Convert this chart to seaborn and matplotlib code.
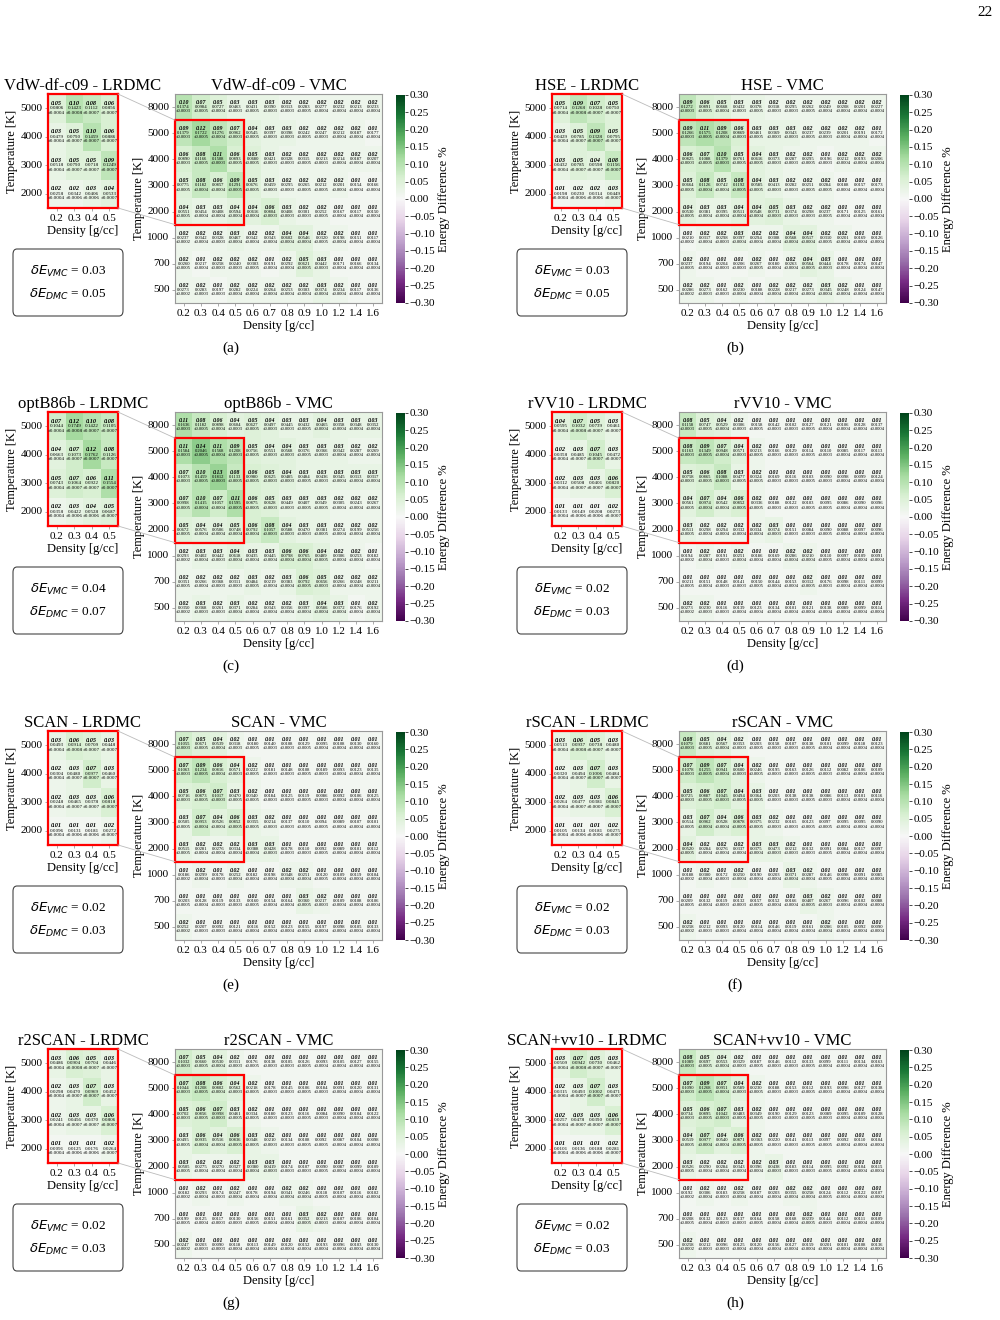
import numpy as np
import matplotlib.pyplot as plt
import matplotlib.patches as patches
from matplotlib.patches import ConnectionPatch
import seaborn as sns

plt.rcParams['font.family'] = ['Liberation Serif', 'DejaVu Serif']
plt.rcParams['mathtext.fontset'] = 'dejavusans'

# axes categories
density_vmc = ["0.2", "0.3", "0.4", "0.5", "0.6", "0.7", "0.8", "0.9", "1.0", "1.2", "1.4", "1.6"]
density_lrdmc = ["0.2", "0.3", "0.4", "0.5"]
temps_vmc = ["8000", "5000", "4000", "3000", "2000", "1000", "700", "500"]
temps_lrdmc = ["5000", "4000", "3000", "2000"]

# statistical errors (same QMC references for every functional)
lrdmc_err = [[0.0004, 0.0008, 0.0007, 0.0007],
             [0.0004, 0.0007, 0.0007, 0.0007],
             [0.0004, 0.0007, 0.0007, 0.0007],
             [0.0004, 0.0006, 0.0006, 0.0007]]
vmc_err = [[0.0003, 0.0005, 0.0004, 0.0003, 0.0005, 0.0003, 0.0003, 0.0005, 0.0004, 0.0004, 0.0004, 0.0004],
           [0.0003, 0.0005, 0.0004, 0.0003, 0.0005, 0.0003, 0.0003, 0.0005, 0.0003, 0.0004, 0.0004, 0.0004],
           [0.0003, 0.0005, 0.0003, 0.0005, 0.0005, 0.0003, 0.0003, 0.0005, 0.0003, 0.0004, 0.0004, 0.0004],
           [0.0005, 0.0004, 0.0004, 0.0005, 0.0005, 0.0003, 0.0003, 0.0005, 0.0005, 0.0004, 0.0004, 0.0004],
           [0.0005, 0.0004, 0.0004, 0.0004, 0.0004, 0.0003, 0.0003, 0.0003, 0.0005, 0.0004, 0.0004, 0.0004],
           [0.0002, 0.0004, 0.0003, 0.0004, 0.0004, 0.0004, 0.0004, 0.0004, 0.0005, 0.0004, 0.0004, 0.0004],
           [0.0005, 0.0004, 0.0003, 0.0003, 0.0005, 0.0004, 0.0004, 0.0005, 0.0003, 0.0004, 0.0004, 0.0004],
           [0.0002, 0.0003, 0.0003, 0.0004, 0.0004, 0.0004, 0.0004, 0.0004, 0.0004, 0.0004, 0.0004, 0.0004]]

# ---- VdW-df-c09 ----
vdw_lr_pct = [[0.05, 0.10, 0.08, 0.06], [0.03, 0.05, 0.10, 0.06], [0.03, 0.05, 0.05, 0.09], [0.02, 0.02, 0.03, 0.04]]
vdw_lr_val = [[0.0806, 0.1423, 0.1112, 0.0856], [0.0479, 0.0790, 0.1459, 0.0886],
              [0.0518, 0.0790, 0.0718, 0.1249], [0.0258, 0.0342, 0.0406, 0.0533]]
vdw_vmc_pct = [[0.10, 0.07, 0.05, 0.03, 0.03, 0.03, 0.02, 0.02, 0.02, 0.02, 0.02, 0.02],
               [0.09, 0.12, 0.09, 0.07, 0.04, 0.03, 0.03, 0.02, 0.02, 0.02, 0.02, 0.01],
               [0.06, 0.08, 0.11, 0.06, 0.05, 0.03, 0.02, 0.02, 0.02, 0.02, 0.02, 0.02],
               [0.05, 0.08, 0.06, 0.09, 0.05, 0.03, 0.02, 0.02, 0.02, 0.02, 0.01, 0.01],
               [0.04, 0.03, 0.03, 0.04, 0.04, 0.06, 0.03, 0.02, 0.02, 0.01, 0.01, 0.01],
               [0.02, 0.02, 0.02, 0.03, 0.02, 0.02, 0.04, 0.04, 0.02, 0.02, 0.01, 0.01],
               [0.02, 0.01, 0.02, 0.02, 0.02, 0.01, 0.02, 0.05, 0.03, 0.01, 0.01, 0.01],
               [0.02, 0.02, 0.01, 0.02, 0.02, 0.02, 0.02, 0.02, 0.03, 0.02, 0.01, 0.01]]
vdw_vmc_val = [[0.1374, 0.0984, 0.0727, 0.0463, 0.0431, 0.0390, 0.0313, 0.0283, 0.0277, 0.0232, 0.0213, 0.0233],
               [0.1379, 0.1722, 0.1276, 0.0962, 0.0545, 0.0397, 0.0398, 0.0242, 0.0247, 0.0212, 0.0187, 0.0177],
               [0.0890, 0.1166, 0.1508, 0.0893, 0.0680, 0.0421, 0.0328, 0.0315, 0.0213, 0.0214, 0.0187, 0.0207],
               [0.0775, 0.1182, 0.0857, 0.1291, 0.0676, 0.0459, 0.0295, 0.0265, 0.0212, 0.0201, 0.0154, 0.0166],
               [0.0551, 0.0454, 0.0408, 0.0594, 0.0616, 0.0804, 0.0408, 0.0301, 0.0252, 0.0167, 0.0117, 0.0150],
               [0.0237, 0.0342, 0.0328, 0.0467, 0.0342, 0.0343, 0.0602, 0.0546, 0.0320, 0.0198, 0.0151, 0.0117],
               [0.0260, 0.0217, 0.0258, 0.0240, 0.0303, 0.0191, 0.0292, 0.0621, 0.0442, 0.0171, 0.0166, 0.0134],
               [0.0273, 0.0283, 0.0197, 0.0282, 0.0224, 0.0264, 0.0253, 0.0303, 0.0374, 0.0234, 0.0117, 0.0136]]

# ---- HSE ----
hse_lr_pct = [[0.05, 0.09, 0.07, 0.05], [0.03, 0.05, 0.09, 0.05], [0.03, 0.05, 0.04, 0.08], [0.01, 0.02, 0.02, 0.03]]
hse_lr_val = [[0.0714, 0.1268, 0.1028, 0.0750], [0.0429, 0.0785, 0.1328, 0.0795],
              [0.0432, 0.0785, 0.0598, 0.1156], [0.0198, 0.0230, 0.0314, 0.0449]]
hse_vmc_pct = [[0.09, 0.06, 0.05, 0.03, 0.03, 0.02, 0.02, 0.02, 0.02, 0.02, 0.02, 0.02],
               [0.09, 0.11, 0.09, 0.06, 0.03, 0.03, 0.03, 0.02, 0.02, 0.02, 0.02, 0.01],
               [0.06, 0.07, 0.10, 0.05, 0.04, 0.03, 0.02, 0.02, 0.01, 0.02, 0.02, 0.02],
               [0.05, 0.08, 0.05, 0.08, 0.04, 0.03, 0.02, 0.02, 0.02, 0.01, 0.01, 0.01],
               [0.04, 0.03, 0.03, 0.04, 0.04, 0.05, 0.03, 0.02, 0.02, 0.01, 0.01, 0.01],
               [0.01, 0.02, 0.02, 0.03, 0.02, 0.02, 0.04, 0.04, 0.02, 0.02, 0.01, 0.01],
               [0.02, 0.01, 0.01, 0.01, 0.02, 0.01, 0.02, 0.04, 0.03, 0.01, 0.01, 0.01],
               [0.02, 0.02, 0.01, 0.02, 0.01, 0.02, 0.02, 0.02, 0.03, 0.02, 0.01, 0.01]]
hse_vmc_val = [[0.1272, 0.0891, 0.0668, 0.0432, 0.0378, 0.0318, 0.0295, 0.0262, 0.0249, 0.0208, 0.0201, 0.0227],
               [0.1266, 0.1575, 0.1208, 0.0869, 0.0461, 0.0369, 0.0343, 0.0237, 0.0239, 0.0201, 0.0191, 0.0172],
               [0.0825, 0.1088, 0.1379, 0.0761, 0.0616, 0.0373, 0.0287, 0.0295, 0.0196, 0.0212, 0.0193, 0.0206],
               [0.0664, 0.1126, 0.0742, 0.1192, 0.0585, 0.0413, 0.0282, 0.0251, 0.0284, 0.0188, 0.0157, 0.0173],
               [0.0530, 0.0381, 0.0395, 0.0511, 0.0548, 0.0731, 0.0374, 0.0298, 0.0237, 0.0171, 0.0125, 0.0161],
               [0.0210, 0.0317, 0.0298, 0.0397, 0.0294, 0.0308, 0.0568, 0.0517, 0.0310, 0.0201, 0.0169, 0.0126],
               [0.0237, 0.0194, 0.0204, 0.0206, 0.0267, 0.0180, 0.0263, 0.0564, 0.0444, 0.0178, 0.0174, 0.0147],
               [0.0286, 0.0273, 0.0162, 0.0230, 0.0188, 0.0228, 0.0217, 0.0273, 0.0345, 0.0248, 0.0124, 0.0147]]

# ---- optB86b ----
optb_lr_pct = [[0.07, 0.12, 0.10, 0.08], [0.04, 0.07, 0.12, 0.08], [0.05, 0.07, 0.06, 0.11], [0.02, 0.03, 0.04, 0.05]]
optb_lr_val = [[0.1044, 0.1749, 0.1422, 0.1105], [0.0663, 0.1073, 0.1762, 0.1126],
               [0.0743, 0.1064, 0.0922, 0.1554], [0.0358, 0.0422, 0.0528, 0.0687]]
optb_vmc_pct = [[0.11, 0.08, 0.06, 0.04, 0.05, 0.04, 0.03, 0.03, 0.04, 0.03, 0.03, 0.03],
                [0.11, 0.14, 0.11, 0.09, 0.05, 0.04, 0.04, 0.03, 0.03, 0.03, 0.02, 0.02],
                [0.07, 0.10, 0.13, 0.08, 0.06, 0.05, 0.04, 0.03, 0.03, 0.03, 0.03, 0.03],
                [0.07, 0.10, 0.07, 0.11, 0.06, 0.05, 0.03, 0.03, 0.03, 0.02, 0.02, 0.02],
                [0.05, 0.04, 0.04, 0.05, 0.06, 0.08, 0.04, 0.03, 0.03, 0.02, 0.02, 0.02],
                [0.02, 0.03, 0.03, 0.04, 0.03, 0.03, 0.06, 0.06, 0.04, 0.02, 0.02, 0.01],
                [0.02, 0.02, 0.02, 0.02, 0.03, 0.02, 0.03, 0.06, 0.05, 0.02, 0.02, 0.02],
                [0.02, 0.03, 0.02, 0.03, 0.02, 0.02, 0.02, 0.03, 0.04, 0.03, 0.01, 0.02]]
optb_vmc_val = [[0.1636, 0.1182, 0.0898, 0.0604, 0.0627, 0.0497, 0.0445, 0.0432, 0.0465, 0.0358, 0.0348, 0.0352],
                [0.1584, 0.2046, 0.1568, 0.1208, 0.0756, 0.0551, 0.0568, 0.0376, 0.0366, 0.0342, 0.0287, 0.0269],
                [0.1073, 0.1459, 0.1812, 0.1133, 0.0980, 0.0625, 0.0485, 0.0484, 0.0436, 0.0345, 0.0313, 0.0317],
                [0.0998, 0.1415, 0.1057, 0.1595, 0.0875, 0.0628, 0.0449, 0.0407, 0.0349, 0.0305, 0.0243, 0.0267],
                [0.0672, 0.0576, 0.0506, 0.0748, 0.0792, 0.1057, 0.0588, 0.0470, 0.0381, 0.0274, 0.0199, 0.0256],
                [0.0293, 0.0402, 0.0442, 0.0618, 0.0435, 0.0445, 0.0798, 0.0765, 0.0489, 0.0306, 0.0253, 0.0182],
                [0.0351, 0.0266, 0.0368, 0.0311, 0.0484, 0.0219, 0.0383, 0.0792, 0.0656, 0.0266, 0.0248, 0.0211],
                [0.0350, 0.0368, 0.0261, 0.0371, 0.0284, 0.0343, 0.0356, 0.0397, 0.0586, 0.0372, 0.0176, 0.0192]]

# ---- rVV10 ----
rvv_lr_pct = [[0.04, 0.07, 0.05, 0.03], [0.02, 0.03, 0.07, 0.03], [0.02, 0.03, 0.03, 0.06], [0.01, 0.01, 0.01, 0.02]]
rvv_lr_val = [[0.0595, 0.1032, 0.0739, 0.0461], [0.0358, 0.0485, 0.1045, 0.0472],
              [0.0312, 0.0508, 0.0401, 0.0820], [0.0133, 0.0149, 0.0208, 0.0273]]
rvv_vmc_pct = [[0.08, 0.05, 0.04, 0.02, 0.01, 0.01, 0.01, 0.01, 0.01, 0.01, 0.01, 0.01],
               [0.08, 0.09, 0.07, 0.04, 0.02, 0.01, 0.01, 0.01, 0.01, 0.01, 0.01, 0.01],
               [0.05, 0.06, 0.08, 0.03, 0.02, 0.01, 0.01, 0.01, 0.01, 0.01, 0.01, 0.01],
               [0.04, 0.07, 0.04, 0.06, 0.02, 0.01, 0.01, 0.01, 0.01, 0.01, 0.01, 0.01],
               [0.03, 0.02, 0.02, 0.02, 0.02, 0.03, 0.01, 0.01, 0.01, 0.01, 0.01, 0.01],
               [0.01, 0.02, 0.01, 0.02, 0.01, 0.01, 0.02, 0.02, 0.01, 0.01, 0.01, 0.01],
               [0.01, 0.01, 0.01, 0.01, 0.01, 0.01, 0.01, 0.02, 0.01, 0.01, 0.01, 0.01],
               [0.02, 0.02, 0.01, 0.01, 0.01, 0.01, 0.01, 0.01, 0.01, 0.01, 0.01, 0.01]]
rvv_vmc_val = [[0.1158, 0.0747, 0.0529, 0.0306, 0.0158, 0.0142, 0.0102, 0.0127, 0.0121, 0.0106, 0.0128, 0.0137],
               [0.1163, 0.1349, 0.0948, 0.0571, 0.0213, 0.0166, 0.0129, 0.0114, 0.0110, 0.0085, 0.0117, 0.0113],
               [0.0758, 0.0865, 0.1088, 0.0477, 0.0324, 0.0169, 0.0116, 0.0103, 0.0090, 0.0098, 0.0099, 0.0124],
               [0.0561, 0.0974, 0.0542, 0.0852, 0.0336, 0.0188, 0.0122, 0.0103, 0.0095, 0.0086, 0.0090, 0.0096],
               [0.0511, 0.0298, 0.0294, 0.0332, 0.0334, 0.0374, 0.0151, 0.0084, 0.0090, 0.0088, 0.0097, 0.0096],
               [0.0194, 0.0287, 0.0191, 0.0251, 0.0186, 0.0169, 0.0286, 0.0210, 0.0110, 0.0097, 0.0109, 0.0091],
               [0.0211, 0.0151, 0.0148, 0.0141, 0.0150, 0.0144, 0.0153, 0.0312, 0.0176, 0.0098, 0.0111, 0.0099],
               [0.0273, 0.0230, 0.0116, 0.0139, 0.0123, 0.0134, 0.0101, 0.0121, 0.0138, 0.0089, 0.0099, 0.0114]]

# ---- SCAN ----
scan_lr_pct = [[0.03, 0.06, 0.05, 0.03], [0.02, 0.03, 0.07, 0.03], [0.02, 0.03, 0.03, 0.06], [0.01, 0.01, 0.01, 0.02]]
scan_lr_val = [[0.0493, 0.0914, 0.0709, 0.0448], [0.0304, 0.0480, 0.0977, 0.0460],
               [0.0248, 0.0465, 0.0378, 0.0818], [0.0096, 0.0131, 0.0181, 0.0272]]
scan_vmc_pct = [[0.07, 0.05, 0.04, 0.02, 0.01, 0.01, 0.01, 0.01, 0.01, 0.01, 0.01, 0.01],
                [0.07, 0.09, 0.06, 0.04, 0.02, 0.01, 0.01, 0.01, 0.01, 0.01, 0.01, 0.01],
                [0.05, 0.06, 0.07, 0.03, 0.02, 0.01, 0.01, 0.01, 0.01, 0.01, 0.01, 0.01],
                [0.03, 0.07, 0.04, 0.06, 0.03, 0.02, 0.01, 0.01, 0.01, 0.01, 0.01, 0.01],
                [0.03, 0.02, 0.02, 0.02, 0.03, 0.03, 0.01, 0.01, 0.01, 0.01, 0.01, 0.01],
                [0.01, 0.02, 0.01, 0.02, 0.01, 0.01, 0.02, 0.02, 0.01, 0.01, 0.01, 0.01],
                [0.01, 0.01, 0.01, 0.01, 0.01, 0.01, 0.01, 0.03, 0.02, 0.01, 0.01, 0.01],
                [0.02, 0.01, 0.01, 0.01, 0.01, 0.01, 0.01, 0.01, 0.01, 0.01, 0.01, 0.01]]
scan_vmc_val = [[0.1055, 0.0671, 0.0539, 0.0318, 0.0180, 0.0140, 0.0108, 0.0129, 0.0095, 0.0108, 0.0130, 0.0160],
                [0.1063, 0.1234, 0.0816, 0.0571, 0.0222, 0.0181, 0.0148, 0.0108, 0.0189, 0.0093, 0.0123, 0.0135],
                [0.0716, 0.0873, 0.1017, 0.0470, 0.0340, 0.0184, 0.0125, 0.0119, 0.0086, 0.0092, 0.0106, 0.0125],
                [0.0505, 0.0953, 0.0526, 0.0852, 0.0355, 0.0214, 0.0137, 0.0110, 0.0094, 0.0089, 0.0107, 0.0101],
                [0.0515, 0.0281, 0.0276, 0.0334, 0.0388, 0.0428, 0.0178, 0.0110, 0.0092, 0.0089, 0.0101, 0.0112],
                [0.0186, 0.0299, 0.0178, 0.0252, 0.0182, 0.0198, 0.0348, 0.0251, 0.0120, 0.0109, 0.0119, 0.0104],
                [0.0203, 0.0128, 0.0119, 0.0133, 0.0160, 0.0154, 0.0164, 0.0360, 0.0217, 0.0109, 0.0108, 0.0106],
                [0.0252, 0.0207, 0.0092, 0.0121, 0.0116, 0.0152, 0.0123, 0.0155, 0.0197, 0.0098, 0.0105, 0.0133]]

# ---- rSCAN ----
rscan_lr_pct = [[0.03, 0.06, 0.05, 0.03], [0.02, 0.03, 0.07, 0.03], [0.02, 0.03, 0.03, 0.06], [0.01, 0.01, 0.01, 0.02]]
rscan_lr_val = [[0.0513, 0.0937, 0.0738, 0.0480], [0.0320, 0.0494, 0.1006, 0.0484],
                [0.0264, 0.0477, 0.0381, 0.0845], [0.0105, 0.0134, 0.0181, 0.0275]]
rscan_vmc_pct = [[0.08, 0.05, 0.04, 0.02, 0.01, 0.01, 0.01, 0.01, 0.01, 0.01, 0.01, 0.01],
                 [0.07, 0.09, 0.07, 0.04, 0.02, 0.01, 0.01, 0.01, 0.01, 0.01, 0.01, 0.01],
                 [0.05, 0.06, 0.07, 0.04, 0.03, 0.01, 0.01, 0.01, 0.01, 0.01, 0.01, 0.01],
                 [0.03, 0.07, 0.04, 0.06, 0.03, 0.02, 0.01, 0.01, 0.01, 0.01, 0.01, 0.01],
                 [0.04, 0.02, 0.02, 0.02, 0.03, 0.03, 0.02, 0.01, 0.01, 0.01, 0.01, 0.01],
                 [0.01, 0.02, 0.01, 0.02, 0.01, 0.01, 0.03, 0.02, 0.01, 0.01, 0.01, 0.01],
                 [0.01, 0.01, 0.01, 0.01, 0.01, 0.01, 0.01, 0.03, 0.02, 0.01, 0.01, 0.01],
                 [0.02, 0.01, 0.01, 0.01, 0.01, 0.01, 0.01, 0.01, 0.02, 0.01, 0.01, 0.01]]
rscan_vmc_val = [[0.1079, 0.0681, 0.0567, 0.0353, 0.0203, 0.0158, 0.0107, 0.0138, 0.0101, 0.0099, 0.0118, 0.0123],
                 [0.1078, 0.1255, 0.0941, 0.0600, 0.0246, 0.0195, 0.0163, 0.0126, 0.0112, 0.0082, 0.0106, 0.0109],
                 [0.0725, 0.0887, 0.1045, 0.0494, 0.0364, 0.0203, 0.0138, 0.0138, 0.0086, 0.0113, 0.0101, 0.0116],
                 [0.0514, 0.0962, 0.0528, 0.0878, 0.0375, 0.0232, 0.0165, 0.0123, 0.0097, 0.0095, 0.0095, 0.0090],
                 [0.0520, 0.0284, 0.0276, 0.0337, 0.0375, 0.0473, 0.0212, 0.0132, 0.0091, 0.0084, 0.0117, 0.0097],
                 [0.0188, 0.0300, 0.0172, 0.0250, 0.0190, 0.0203, 0.0371, 0.0287, 0.0146, 0.0098, 0.0091, 0.0085],
                 [0.0209, 0.0132, 0.0119, 0.0132, 0.0157, 0.0152, 0.0166, 0.0407, 0.0267, 0.0096, 0.0102, 0.0088],
                 [0.0258, 0.0212, 0.0093, 0.0120, 0.0114, 0.0146, 0.0119, 0.0161, 0.0286, 0.0105, 0.0092, 0.0090]]

# ---- r2SCAN ----
r2scan_lr_pct = [[0.03, 0.06, 0.05, 0.03], [0.02, 0.03, 0.07, 0.03], [0.02, 0.03, 0.03, 0.06], [0.01, 0.01, 0.01, 0.02]]
r2scan_lr_val = [[0.0486, 0.0904, 0.0704, 0.0446], [0.0298, 0.0470, 0.0969, 0.0452],
                 [0.0241, 0.0456, 0.0370, 0.0806], [0.0091, 0.0125, 0.0176, 0.0264]]
r2scan_vmc_pct = [[0.07, 0.05, 0.04, 0.02, 0.01, 0.01, 0.01, 0.01, 0.01, 0.01, 0.01, 0.01],
                  [0.07, 0.08, 0.06, 0.04, 0.02, 0.01, 0.01, 0.01, 0.01, 0.01, 0.01, 0.01],
                  [0.05, 0.06, 0.07, 0.03, 0.02, 0.01, 0.01, 0.01, 0.01, 0.01, 0.01, 0.01],
                  [0.03, 0.06, 0.04, 0.06, 0.03, 0.02, 0.01, 0.01, 0.01, 0.01, 0.01, 0.01],
                  [0.03, 0.02, 0.02, 0.02, 0.03, 0.03, 0.01, 0.01, 0.01, 0.01, 0.01, 0.01],
                  [0.01, 0.02, 0.01, 0.02, 0.01, 0.01, 0.02, 0.02, 0.01, 0.01, 0.01, 0.01],
                  [0.01, 0.01, 0.01, 0.01, 0.01, 0.01, 0.01, 0.03, 0.02, 0.01, 0.01, 0.01],
                  [0.02, 0.01, 0.01, 0.01, 0.01, 0.01, 0.01, 0.01, 0.01, 0.01, 0.01, 0.01]]
r2scan_vmc_val = [[0.1032, 0.0660, 0.0530, 0.0311, 0.0176, 0.0138, 0.0105, 0.0126, 0.0093, 0.0105, 0.0127, 0.0155],
                  [0.1044, 0.1208, 0.0802, 0.0562, 0.0218, 0.0178, 0.0145, 0.0106, 0.0184, 0.0091, 0.0120, 0.0131],
                  [0.0702, 0.0856, 0.0998, 0.0461, 0.0334, 0.0180, 0.0123, 0.0116, 0.0084, 0.0090, 0.0104, 0.0122],
                  [0.0495, 0.0935, 0.0516, 0.0836, 0.0348, 0.0210, 0.0134, 0.0108, 0.0092, 0.0087, 0.0104, 0.0098],
                  [0.0505, 0.0275, 0.0270, 0.0327, 0.0380, 0.0419, 0.0174, 0.0107, 0.0090, 0.0087, 0.0099, 0.0109],
                  [0.0182, 0.0293, 0.0174, 0.0247, 0.0178, 0.0194, 0.0341, 0.0246, 0.0118, 0.0107, 0.0116, 0.0102],
                  [0.0199, 0.0125, 0.0117, 0.0130, 0.0156, 0.0151, 0.0161, 0.0352, 0.0213, 0.0107, 0.0106, 0.0104],
                  [0.0247, 0.0203, 0.0090, 0.0118, 0.0113, 0.0149, 0.0120, 0.0152, 0.0193, 0.0096, 0.0103, 0.0130]]

# ---- SCAN+rVV10 ----
scanvv_lr_pct = [[0.03, 0.07, 0.05, 0.03], [0.02, 0.03, 0.07, 0.03], [0.02, 0.03, 0.03, 0.06], [0.01, 0.01, 0.01, 0.02]]
scanvv_lr_val = [[0.0509, 0.0942, 0.0730, 0.0462], [0.0315, 0.0493, 0.1002, 0.0471],
                 [0.0257, 0.0478, 0.0390, 0.0839], [0.0101, 0.0136, 0.0188, 0.0281]]
scanvv_vmc_pct = [[0.08, 0.05, 0.04, 0.02, 0.01, 0.01, 0.01, 0.01, 0.01, 0.01, 0.01, 0.01],
                  [0.07, 0.09, 0.07, 0.04, 0.02, 0.01, 0.01, 0.01, 0.01, 0.01, 0.01, 0.01],
                  [0.05, 0.06, 0.07, 0.03, 0.02, 0.01, 0.01, 0.01, 0.01, 0.01, 0.01, 0.01],
                  [0.04, 0.07, 0.04, 0.06, 0.02, 0.01, 0.01, 0.01, 0.01, 0.01, 0.01, 0.01],
                  [0.03, 0.02, 0.02, 0.02, 0.02, 0.03, 0.01, 0.01, 0.01, 0.01, 0.01, 0.01],
                  [0.01, 0.02, 0.01, 0.02, 0.01, 0.01, 0.02, 0.02, 0.01, 0.01, 0.01, 0.01],
                  [0.01, 0.01, 0.01, 0.01, 0.01, 0.01, 0.01, 0.02, 0.01, 0.01, 0.01, 0.01],
                  [0.02, 0.01, 0.01, 0.01, 0.01, 0.01, 0.01, 0.01, 0.01, 0.01, 0.01, 0.01]]
scanvv_vmc_val = [[0.1089, 0.0697, 0.0553, 0.0329, 0.0187, 0.0146, 0.0112, 0.0133, 0.0099, 0.0111, 0.0134, 0.0163],
                  [0.1090, 0.1268, 0.0951, 0.0589, 0.0230, 0.0188, 0.0153, 0.0112, 0.0193, 0.0096, 0.0127, 0.0138],
                  [0.0734, 0.0895, 0.1042, 0.0483, 0.0349, 0.0190, 0.0129, 0.0123, 0.0089, 0.0095, 0.0109, 0.0128],
                  [0.0519, 0.0977, 0.0540, 0.0871, 0.0363, 0.0220, 0.0141, 0.0113, 0.0097, 0.0092, 0.0110, 0.0104],
                  [0.0526, 0.0290, 0.0284, 0.0343, 0.0396, 0.0438, 0.0183, 0.0114, 0.0095, 0.0092, 0.0104, 0.0115],
                  [0.0192, 0.0306, 0.0183, 0.0258, 0.0187, 0.0203, 0.0355, 0.0258, 0.0124, 0.0112, 0.0122, 0.0107],
                  [0.0208, 0.0132, 0.0123, 0.0137, 0.0164, 0.0158, 0.0168, 0.0239, 0.0144, 0.0112, 0.0111, 0.0109],
                  [0.0258, 0.0212, 0.0096, 0.0125, 0.0120, 0.0156, 0.0127, 0.0159, 0.0201, 0.0101, 0.0108, 0.0136]]

titles = ["VdW-df-c09", "HSE", "optB86b", "rVV10", "SCAN", "rSCAN", "r2SCAN", "SCAN+vv10"]
delta_vmc = [0.03, 0.03, 0.04, 0.02, 0.02, 0.02, 0.02, 0.02]
delta_dmc = [0.05, 0.05, 0.07, 0.03, 0.03, 0.03, 0.03, 0.03]
letters = ["(a)", "(b)", "(c)", "(d)", "(e)", "(f)", "(g)", "(h)"]
cbar_ticks = [-0.30, -0.25, -0.20, -0.15, -0.10, -0.05, 0.00, 0.05, 0.10, 0.15, 0.20, 0.25, 0.30]

lr_pct_all = [vdw_lr_pct, hse_lr_pct, optb_lr_pct, rvv_lr_pct, scan_lr_pct, rscan_lr_pct, r2scan_lr_pct, scanvv_lr_pct]
lr_val_all = [vdw_lr_val, hse_lr_val, optb_lr_val, rvv_lr_val, scan_lr_val, rscan_lr_val, r2scan_lr_val, scanvv_lr_val]
vmc_pct_all = [vdw_vmc_pct, hse_vmc_pct, optb_vmc_pct, rvv_vmc_pct, scan_vmc_pct, rscan_vmc_pct, r2scan_vmc_pct, scanvv_vmc_pct]
vmc_val_all = [vdw_vmc_val, hse_vmc_val, optb_vmc_val, rvv_vmc_val, scan_vmc_val, rscan_vmc_val, r2scan_vmc_val, scanvv_vmc_val]

W, H = 1000, 1320
fig = plt.figure(figsize=(10, 13.2), dpi=100)


def fbox(x0, y0, x1, y1):
    # pixel box (top-left origin) -> figure rect
    return [x0 / W, 1 - y1 / H, (x1 - x0) / W, (y1 - y0) / H]


def annotate_cells(ax, pct, val, err, fs):
    for i in range(len(pct)):
        for j in range(len(pct[0])):
            ax.text(j + 0.5, i + 0.33, "%.2f" % pct[i][j], ha="center", va="center",
                    fontsize=fs + 0.9, fontweight="bold", fontstyle="italic")
            ax.text(j + 0.5, i + 0.50, "%.4f" % val[i][j], ha="center", va="center", fontsize=fs)
            ax.text(j + 0.5, i + 0.66, "\u00b1%.4f" % err[i][j], ha="center", va="center", fontsize=fs)


def style_axes(ax, xt, yt):
    ax.set_xticklabels(xt, rotation=0, fontsize=8)
    ax.set_yticklabels(yt, rotation=0, fontsize=8)
    ax.tick_params(length=2, width=0.5, color="#888888", pad=2)
    ax.set_xlabel("Density [g/cc]", fontsize=9, labelpad=2)
    ax.set_ylabel("Temperature [K]", fontsize=9, labelpad=2)


def fmt_tick(t):
    if t < -1e-9:
        return "\u2212%.2f" % abs(t)
    return "%.2f" % abs(t)


row_off = [0, 318, 637, 955]
for k in range(8):
    dx = (k % 2) * 504
    dy = row_off[k // 2]

    ax_l = fig.add_axes(fbox(48 + dx, 94 + dy, 118 + dx, 208 + dy))
    ax_v = fig.add_axes(fbox(175 + dx, 94 + dy, 382 + dx, 303 + dy))
    cax = fig.add_axes(fbox(396 + dx, 95 + dy, 405 + dx, 303 + dy))

    sns.heatmap(np.array(lr_pct_all[k]), ax=ax_l, cmap="PRGn", vmin=-0.3, vmax=0.3, cbar=False,
                xticklabels=density_lrdmc, yticklabels=temps_lrdmc)
    sns.heatmap(np.array(vmc_pct_all[k]), ax=ax_v, cmap="PRGn", vmin=-0.3, vmax=0.3, cbar_ax=cax,
                xticklabels=density_vmc, yticklabels=temps_vmc)

    annotate_cells(ax_l, lr_pct_all[k], lr_val_all[k], lrdmc_err, 3.6)
    annotate_cells(ax_v, vmc_pct_all[k], vmc_val_all[k], vmc_err, 3.3)

    style_axes(ax_l, density_lrdmc, temps_lrdmc)
    style_axes(ax_v, density_vmc, temps_vmc)
    ax_l.set_title(titles[k] + " - LRDMC", fontsize=12, pad=2)
    ax_v.set_title(titles[k] + " - VMC", fontsize=12, pad=2)

    for s in ax_l.spines.values():
        s.set_visible(True)
        s.set_color("red")
        s.set_linewidth(1.6)
    for s in ax_v.spines.values():
        s.set_visible(True)
        s.set_color("#999999")
        s.set_linewidth(0.8)

    # zoomed region on the VMC map
    ax_v.add_patch(patches.Rectangle((0, 1), 4, 4, fill=False, edgecolor="red", linewidth=1.6,
                                     clip_on=False, zorder=5))
    for ya, yb in [(0, 1), (4, 5)]:
        con = ConnectionPatch(xyA=(4, ya), coordsA="data", axesA=ax_l,
                              xyB=(0, yb), coordsB="data", axesB=ax_v,
                              color="#bbbbbb", linewidth=0.6)
        fig.add_artist(con)

    cb = ax_v.collections[0].colorbar
    cb.set_ticks(cbar_ticks)
    cb.ax.set_yticklabels([fmt_tick(t) for t in cbar_ticks], fontsize=8)
    cb.ax.tick_params(length=2, width=0.5, pad=1)
    cb.set_label("Energy Difference %", fontsize=9, labelpad=2)

    # summary box
    box = patches.FancyBboxPatch(((13 + dx) / W, 1 - (316 + dy) / H), 110 / W, 67 / H,
                                 boxstyle="round,pad=0,rounding_size=0.004",
                                 transform=fig.transFigure, facecolor="white",
                                 edgecolor="#444444", linewidth=0.8)
    fig.add_artist(box)
    fig.text((68 + dx) / W, 1 - (271 + dy) / H, r"$\delta E_{VMC}$ = %.2f" % delta_vmc[k],
             ha="center", va="center", fontsize=9.5)
    fig.text((68 + dx) / W, 1 - (294 + dy) / H, r"$\delta E_{DMC}$ = %.2f" % delta_dmc[k],
             ha="center", va="center", fontsize=9.5)

    fig.text((231 + dx) / W, 1 - (348 + dy) / H, letters[k], ha="center", va="center", fontsize=11)

fig.text(985 / W, 1 - 12 / H, "22", ha="center", va="center", fontsize=11)

fig.savefig("out.png", dpi=100)
